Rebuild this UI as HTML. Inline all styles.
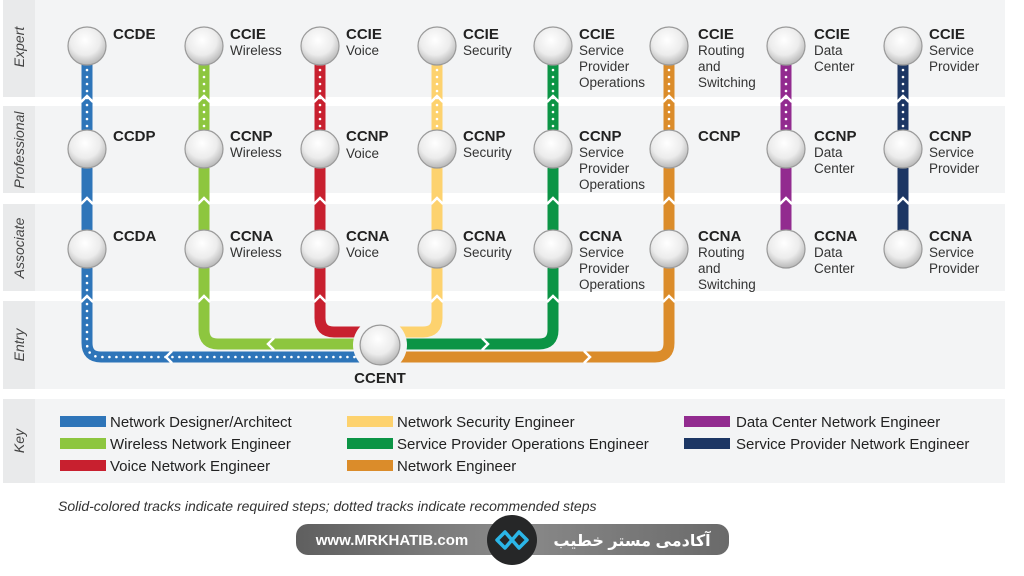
<!DOCTYPE html>
<html><head><meta charset="utf-8"><style>
html,body{margin:0;padding:0;background:#fff;width:1024px;height:576px;overflow:hidden}
svg{display:block}
.t{font-family:"Liberation Sans",sans-serif;font-weight:bold;font-size:15px;fill:#222}
.s{font-family:"Liberation Sans",sans-serif;font-size:13.5px;fill:#333}
.r{font-family:"Liberation Sans",sans-serif;font-style:italic;font-size:14px;fill:#444}
.k{font-family:"Liberation Sans Narrow","Liberation Sans",sans-serif;font-size:15px;fill:#222}
</style></head><body>
<svg width="1024" height="576" viewBox="0 0 1024 576" xmlns="http://www.w3.org/2000/svg">
<defs>
<radialGradient id="g" cx="45%" cy="35%" r="65%">
<stop offset="0" stop-color="#ffffff"/><stop offset="0.6" stop-color="#ececec"/><stop offset="1" stop-color="#b8b8b8"/>
</radialGradient>
<linearGradient id="bn" x1="0" x2="1" y1="0" y2="0">
<stop offset="0" stop-color="#5f5f5f"/><stop offset="0.5" stop-color="#8a8a8a"/><stop offset="1" stop-color="#6a6a6a"/>
</linearGradient>
<symbol id="n" viewBox="-21 -21 42 42"><circle r="19" fill="url(#g)" stroke="#9a9a9a" stroke-width="1.2"/></symbol>
</defs>
<g fill="#f3f4f5">
<rect x="3" y="0" width="1002" height="97"/>
<rect x="3" y="106" width="1002" height="87"/>
<rect x="3" y="204" width="1002" height="87"/>
<rect x="3" y="301" width="1002" height="88"/>
<rect x="3" y="399" width="1002" height="84"/>
</g>
<g fill="#e9eaeb">
<rect x="3" y="0" width="32" height="97"/>
<rect x="3" y="106" width="32" height="87"/>
<rect x="3" y="204" width="32" height="87"/>
<rect x="3" y="301" width="32" height="88"/>
<rect x="3" y="399" width="32" height="84"/>
</g>
<text class="r" transform="translate(24,47) rotate(-90)" text-anchor="middle">Expert</text>
<text class="r" transform="translate(24,150) rotate(-90)" text-anchor="middle">Professional</text>
<text class="r" transform="translate(24,248) rotate(-90)" text-anchor="middle">Associate</text>
<text class="r" transform="translate(24,345) rotate(-90)" text-anchor="middle">Entry</text>
<text class="r" transform="translate(24,441) rotate(-90)" text-anchor="middle">Key</text>

<g stroke-width="11" fill="none">
<path d="M87 64V130M87 168V230" stroke="#2e75b9"/>
<path d="M204 64V130M204 168V230" stroke="#8dc63f"/>
<path d="M320 64V130M320 168V230" stroke="#c8202f"/>
<path d="M437 64V130M437 168V230" stroke="#fdd26e"/>
<path d="M553 64V130M553 168V230" stroke="#0b9445"/>
<path d="M669 64V130M669 168V230" stroke="#db8c2a"/>
<path d="M786 64V130M786 168V230" stroke="#922b8f"/>
<path d="M903 64V130M903 168V230" stroke="#1c3664"/>
</g>
<g stroke-width="11" fill="none">
<path d="M669 268V343Q669 357 655 357H395" stroke="#db8c2a"/>
<path d="M87 268V343Q87 357 101 357H365" stroke="#2e75b9"/>
<path d="M553 268V330Q553 344 539 344H395" stroke="#0b9445"/>
<path d="M204 268V330Q204 344 218 344H365" stroke="#8dc63f"/>
<path d="M320 268V318Q320 332 334 332H372" stroke="#c8202f"/>
<path d="M437 268V318Q437 332 423 332H390" stroke="#fdd26e"/>
</g>
<g stroke="#fff" stroke-width="2.6" stroke-linecap="round" stroke-dasharray="0 7" fill="none">
<path d="M87 70V128M204 70V128M320 70V128M437 70V128M553 70V128M669 70V128M786 70V128M903 70V128"/>
<path d="M87 276V343Q87 357 101 357H360"/>
</g>
<g stroke="#fff" stroke-width="2.5" fill="none">
<path d="M81 102L87 96L93 102M198 102L204 96L210 102M314 102L320 96L326 102M431 102L437 96L443 102M547 102L553 96L559 102M663 102L669 96L675 102M780 102L786 96L792 102M897 102L903 96L909 102"/>
<path d="M81 204L87 198L93 204M198 204L204 198L210 204M314 204L320 198L326 204M431 204L437 198L443 204M547 204L553 198L559 204M663 204L669 198L675 204M780 204L786 198L792 204M897 204L903 198L909 204"/>
<path d="M81 302L87 296L93 302M198 302L204 296L210 302M314 302L320 296L326 302M431 302L437 296L443 302M547 302L553 296L559 302M663 302L669 296L675 302"/>
<path d="M172 351L166 357L172 363M274 338L268 344L274 350M482 338L488 344L482 350M584 351L590 357L584 363"/>
</g>
<g>
<use href="#n" x="66" y="25" width="42" height="42"/><use href="#n" x="183" y="25" width="42" height="42"/><use href="#n" x="299" y="25" width="42" height="42"/><use href="#n" x="416" y="25" width="42" height="42"/><use href="#n" x="532" y="25" width="42" height="42"/><use href="#n" x="648" y="25" width="42" height="42"/><use href="#n" x="765" y="25" width="42" height="42"/><use href="#n" x="882" y="25" width="42" height="42"/>
<use href="#n" x="66" y="128" width="42" height="42"/><use href="#n" x="183" y="128" width="42" height="42"/><use href="#n" x="299" y="128" width="42" height="42"/><use href="#n" x="416" y="128" width="42" height="42"/><use href="#n" x="532" y="128" width="42" height="42"/><use href="#n" x="648" y="128" width="42" height="42"/><use href="#n" x="765" y="128" width="42" height="42"/><use href="#n" x="882" y="128" width="42" height="42"/>
<use href="#n" x="66" y="228" width="42" height="42"/><use href="#n" x="183" y="228" width="42" height="42"/><use href="#n" x="299" y="228" width="42" height="42"/><use href="#n" x="416" y="228" width="42" height="42"/><use href="#n" x="532" y="228" width="42" height="42"/><use href="#n" x="648" y="228" width="42" height="42"/><use href="#n" x="765" y="228" width="42" height="42"/><use href="#n" x="882" y="228" width="42" height="42"/>
<circle cx="380" cy="345" r="27" fill="#f3f4f5"/>
<use href="#n" x="358" y="323" width="44" height="44"/>
</g>
<text class="t" x="380" y="383" text-anchor="middle">CCENT</text>

<text class="t" x="113" y="39">CCDE</text>
<text class="t" x="230" y="39">CCIE</text><text class="s" x="230" y="55">Wireless</text>
<text class="t" x="346" y="39">CCIE</text><text class="s" x="346" y="55">Voice</text>
<text class="t" x="463" y="39">CCIE</text><text class="s" x="463" y="55">Security</text>
<text class="t" x="579" y="39">CCIE</text><text class="s" x="579" y="55">Service</text><text class="s" x="579" y="71">Provider</text><text class="s" x="579" y="87">Operations</text>
<text class="t" x="698" y="39">CCIE</text><text class="s" x="698" y="55">Routing</text><text class="s" x="698" y="71">and</text><text class="s" x="698" y="87">Switching</text>
<text class="t" x="814" y="39">CCIE</text><text class="s" x="814" y="55">Data</text><text class="s" x="814" y="71">Center</text>
<text class="t" x="929" y="39">CCIE</text><text class="s" x="929" y="55">Service</text><text class="s" x="929" y="71">Provider</text>
<text class="t" x="113" y="141">CCDP</text>
<text class="t" x="230" y="141">CCNP</text><text class="s" x="230" y="157">Wireless</text>
<text class="t" x="346" y="141">CCNP</text><text class="s" x="346" y="158">Voice</text>
<text class="t" x="463" y="141">CCNP</text><text class="s" x="463" y="157">Security</text>
<text class="t" x="579" y="141">CCNP</text><text class="s" x="579" y="157">Service</text><text class="s" x="579" y="173">Provider</text><text class="s" x="579" y="189">Operations</text>
<text class="t" x="698" y="141">CCNP</text>
<text class="t" x="814" y="141">CCNP</text><text class="s" x="814" y="157">Data</text><text class="s" x="814" y="173">Center</text>
<text class="t" x="929" y="141">CCNP</text><text class="s" x="929" y="157">Service</text><text class="s" x="929" y="173">Provider</text>
<text class="t" x="113" y="241">CCDA</text>
<text class="t" x="230" y="241">CCNA</text><text class="s" x="230" y="257">Wireless</text>
<text class="t" x="346" y="241">CCNA</text><text class="s" x="346" y="257">Voice</text>
<text class="t" x="463" y="241">CCNA</text><text class="s" x="463" y="257">Security</text>
<text class="t" x="579" y="241">CCNA</text><text class="s" x="579" y="257">Service</text><text class="s" x="579" y="273">Provider</text><text class="s" x="579" y="289">Operations</text>
<text class="t" x="698" y="241">CCNA</text><text class="s" x="698" y="257">Routing</text><text class="s" x="698" y="273">and</text><text class="s" x="698" y="289">Switching</text>
<text class="t" x="814" y="241">CCNA</text><text class="s" x="814" y="257">Data</text><text class="s" x="814" y="273">Center</text>
<text class="t" x="929" y="241">CCNA</text><text class="s" x="929" y="257">Service</text><text class="s" x="929" y="273">Provider</text>

<rect x="60" y="416" width="46" height="11" fill="#2e75b9"/>
<rect x="60" y="438" width="46" height="11" fill="#8dc63f"/>
<rect x="60" y="460" width="46" height="11" fill="#c8202f"/>
<rect x="347" y="416" width="46" height="11" fill="#fdd26e"/>
<rect x="347" y="438" width="46" height="11" fill="#0b9445"/>
<rect x="347" y="460" width="46" height="11" fill="#db8c2a"/>
<rect x="684" y="416" width="46" height="11" fill="#922b8f"/>
<rect x="684" y="438" width="46" height="11" fill="#1c3664"/>
<text class="k" x="110" y="427">Network Designer/Architect</text>
<text class="k" x="110" y="449">Wireless Network Engineer</text>
<text class="k" x="110" y="471">Voice Network Engineer</text>
<text class="k" x="397" y="427">Network Security Engineer</text>
<text class="k" x="397" y="449">Service Provider Operations Engineer</text>
<text class="k" x="397" y="471">Network Engineer</text>
<text class="k" x="736" y="427">Data Center Network Engineer</text>
<text class="k" x="736" y="449">Service Provider Network Engineer</text>

<text x="58" y="511" font-family="Liberation Sans,sans-serif" font-style="italic" font-size="14" fill="#333">Solid-colored tracks indicate required steps; dotted tracks indicate recommended steps</text>

<rect x="296" y="524" width="433" height="31" rx="12" fill="url(#bn)"/>
<text x="392" y="545" text-anchor="middle" font-family="Liberation Sans,sans-serif" font-weight="bold" font-size="15" fill="#fff">www.MRKHATIB.com</text>
<text x="632" y="546" text-anchor="middle" font-family="Liberation Sans,'Noto Sans CJK SC',DejaVu Sans,sans-serif" font-weight="bold" font-size="16" fill="#fff">آکادمی مستر خطیب</text>
<circle cx="512" cy="540" r="25" fill="#262728"/>
<g fill="none" stroke="#2bb6e8" stroke-width="3.5" stroke-linejoin="round">
<path d="M497 540L505 532L512 540L519 548L527 540L519 532L512 540L505 548Z"/>
</g>
</svg>
</body></html>
